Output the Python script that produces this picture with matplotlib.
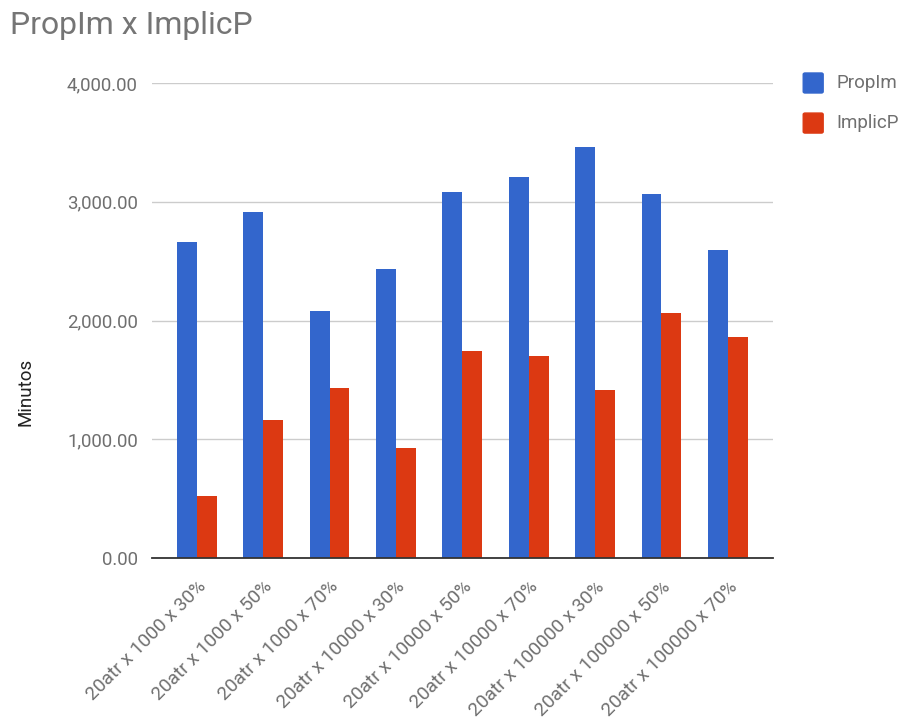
import numpy as np
import matplotlib
matplotlib.use('Agg')
import matplotlib.pyplot as plt
from matplotlib.ticker import FuncFormatter
from matplotlib.patches import FancyBboxPatch

plt.rcParams['font.family'] = ['Roboto', 'DejaVu Sans']

# Data (minutes)
categories = ['20atr x 1000 x 30%', '20atr x 1000 x 50%', '20atr x 1000 x 70%',
              '20atr x 10000 x 30%', '20atr x 10000 x 50%', '20atr x 10000 x 70%',
              '20atr x 100000 x 30%', '20atr x 100000 x 50%', '20atr x 100000 x 70%']
propim = [2659, 2917, 2077, 2432, 3082, 3205, 3463, 3068, 2592]
implicp = [521, 1159, 1430, 929, 1741, 1702, 1414, 2066, 1864]

BLUE = '#3366cc'
RED = '#dc3912'
GREY = '#6f6f6f'

fig = plt.figure(figsize=(9.03, 7.22), dpi=100)
ax = fig.add_axes([0.168, 0.227, 0.856 - 0.168, 0.885 - 0.227])

x = np.arange(len(categories))
w = 0.3
ax.bar(x - w / 2, propim, w, color=BLUE, label='PropIm', zorder=3)
ax.bar(x + w / 2, implicp, w, color=RED, label='ImplicP', zorder=3)

ax.set_xlim(-0.68, len(categories) - 1 + 0.68)
ax.set_ylim(0, 4000)
ax.set_yticks([0, 1000, 2000, 3000, 4000])
ax.yaxis.set_major_formatter(FuncFormatter(lambda v, p: f'{v:,.2f}'))
ax.grid(axis='y', color='#cccccc', linewidth=1, zorder=0)

for s in ['top', 'right', 'left']:
    ax.spines[s].set_visible(False)
ax.spines['bottom'].set_color('#333333')
ax.spines['bottom'].set_linewidth(1.3)
ax.spines['bottom'].set_zorder(4)

ax.tick_params(axis='both', length=0, labelsize=13.4, colors=GREY)
ax.tick_params(axis='y', pad=10)
ax.tick_params(axis='x', pad=14)
ax.set_xticks(x)
ax.set_xticklabels(categories, rotation=45, ha='right', rotation_mode='anchor',
                   color=GREY, fontsize=13.8)

fig.text(0.028, 0.457, 'Minutos', fontsize=13.5, color='#222222', rotation=90,
         ha='center', va='center')

fig.text(0.011, 0.965, 'PropIm x ImplicP', fontsize=23, color='#757575', va='center')

# legend drawn by hand at the right
for i, (name, col) in enumerate([('PropIm', BLUE), ('ImplicP', RED)]):
    yy = 0.885 - i * 0.0555
    fig.patches.append(FancyBboxPatch((0.8895, yy - 0.0138), 0.0221, 0.0277,
                                      boxstyle='round,pad=0,rounding_size=0.002',
                                      transform=fig.transFigure, color=col))
    fig.text(0.926, yy, name, fontsize=13.5, color=GREY, va='center')

fig.savefig('out.png', dpi=100)
